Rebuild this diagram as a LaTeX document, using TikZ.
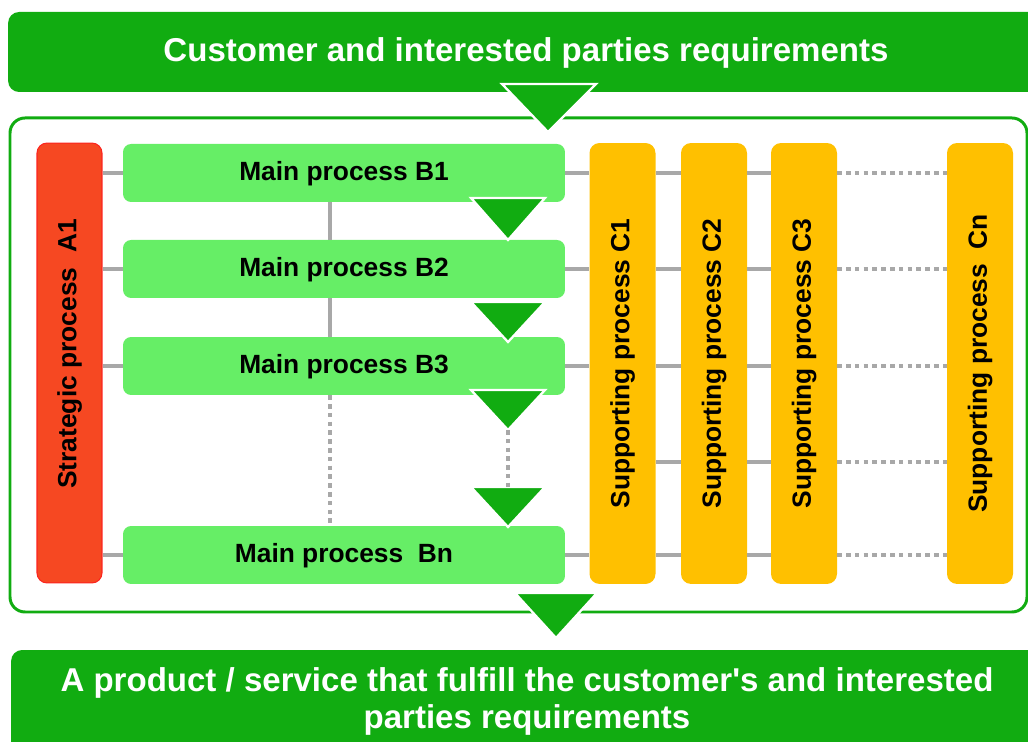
\documentclass[tikz,border=0pt]{standalone}
\usepackage{fontspec}
\setmainfont{Liberation Sans}

\definecolor{bannergreen}{RGB}{17,172,17}
\definecolor{maingreen}{RGB}{102,238,102}
\definecolor{stratred}{RGB}{246,72,34}
\definecolor{stratedge}{RGB}{252,36,30}
\definecolor{supamber}{RGB}{255,192,0}
\definecolor{linkgray}{RGB}{168,168,168}

\tikzset{
  banner/.style={fill=bannergreen, rounded corners=0.22cm, text=white, inner sep=0pt,
    align=center, font=\fontsize{18.8}{21}\selectfont\bfseries},
  mainbox/.style={fill=maingreen, rounded corners=0.16cm, minimum width=8.84cm,
    minimum height=1.16cm, inner sep=0pt, text depth=0.5ex,
    font=\fontsize{15}{18}\selectfont\bfseries},
  stratbox/.style={fill=stratred, draw=stratedge, line width=0.6pt, rounded corners=0.2cm,
    rotate=90, minimum width=8.8cm, minimum height=1.3cm, inner sep=0pt,
    font=\fontsize{15}{18}\selectfont\bfseries},
  supbox/.style={fill=supamber, rounded corners=0.2cm, rotate=90, minimum width=8.82cm,
    minimum height=1.32cm, inner sep=0pt, font=\fontsize{15}{18}\selectfont\bfseries},
  frame/.style={draw=bannergreen, line width=1.7pt, rounded corners=0.3cm},
  link/.style={draw=linkgray, line width=2pt},
  dotlink/.style={link, dash pattern=on 2.6pt off 2.4pt},
  flow/.style={fill=bannergreen, draw=white, line width=1.3pt},
}

\begin{document}
\begin{tikzpicture}[x=0.02cm,y=-0.02cm]
  \clip (0,0) rectangle (1028,742);

  %% Input and output banners
  \node[banner, minimum width=20.72cm, minimum height=1.6cm, text depth=0.6ex] (need) at (526,52)
    {Customer and interested parties requirements};
  \node[banner, minimum width=20.64cm, minimum height=2.06cm] (result) at (527,701.5)
    {A product / service that fulfill the customer\textquotesingle s and interested\\parties requirements};

  %% Process frame
  \draw[frame] (10,118) rectangle (1027,612);

  %% Process boxes
  \node[stratbox] (a1) at (69.5,363) {\hspace{0.36cm}Strategic process\ \ A1};
  \node[mainbox] (b1) at (344,173) {Main process B1};
  \node[mainbox] (b2) at (344,269) {Main process B2};
  \node[mainbox] (b3) at (344,366) {Main process B3};
  \node[mainbox] (bn) at (344,555) {Main process\ \ Bn};
  \node[supbox] (c1) at (622.5,363.5) {Supporting process C1};
  \node[supbox] (c2) at (714,363.5) {Supporting process C2};
  \node[supbox] (c3) at (804,363.5) {Supporting process C3};
  \node[supbox] (cn) at (980,363.5) {Supporting process\ \ Cn};
  \coordinate (r4) at (0,462);
  \coordinate (spine) at (330,0);

  %% Grey links
  \foreach \b in {b1,b2,b3,bn} {
    \draw[link] (a1.south |- \b.west) -- (\b.west);
    \draw[link] (\b.east) -- (c1.north |- \b.east);
  }
  \foreach \r in {b1,b2,b3,r4,bn} {
    \draw[link] (c1.south |- \r) -- (c2.north |- \r);
    \draw[link] (c2.south |- \r) -- (c3.north |- \r);
    \draw[dotlink] (c3.south |- \r) -- (cn.north |- \r);
  }
  \draw[link] (b1.south -| spine) -- (b2.north -| spine);
  \draw[link] (b2.south -| spine) -- (b3.north -| spine);
  \draw[dotlink] (b3.south -| spine) -- (bn.north -| spine);

  %% Flow arrows
  \foreach \ya/\yb/\n in {198/240/1,302/342/2,390/430/3,487/527/4} {
    \draw[flow] (471,\ya) -- (545,\ya) -- (508,\yb) coordinate (tip\n) -- cycle;
    \coordinate (top\n) at (508,\ya);
  }
  \draw[dotlink] (tip3) -- (top4);
  \draw[flow] (502,84) -- (596,84) -- (548,132) -- cycle;
  \draw[flow] (515,593) -- (597,593) -- (556,638) -- cycle;
\end{tikzpicture}
\end{document}
